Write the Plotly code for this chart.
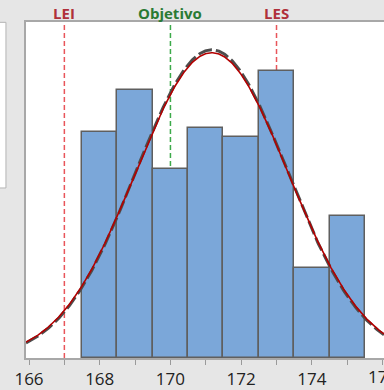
import numpy as np
import plotly.graph_objects as go

# Histogram bins (centres, width 1) and bar heights
bin_centers = [168, 169, 170, 171, 172, 173, 174, 175]
bin_heights = [12.6, 14.9, 10.5, 12.8, 12.3, 16.0, 5.0, 7.9]

# Fitted normal curves (mean, std dev)
fit_mean = 171.17
sigma_overall = 2.16
sigma_within = 2.14

# Spec limits
lei = 167.0
target = 170.0
les = 173.0

tick_vals = list(range(166, 177))
edge_tick = 176  # sits right on the cut-off edge, drawn as an annotation
tick_text = [str(v) if v % 2 == 0 and v != edge_tick else "" for v in tick_vals]

X_RANGE = [165.915, 176.04]
Y_RANGE = [0, 18.7]

n_total = sum(bin_heights)
bin_width = 1.0

TICK_FONT = dict(family="Open Sans", size=17, color="#222222")


def normal_curve(xs, mu, sd):
    return n_total * bin_width / (sd * np.sqrt(2 * np.pi)) * np.exp(-0.5 * ((xs - mu) / sd) ** 2)


xs = np.linspace(X_RANGE[0], X_RANGE[1], 400)

fig = go.Figure()

fig.add_trace(go.Bar(
    x=bin_centers,
    y=bin_heights,
    width=bin_width,
    marker=dict(color="#7ba7d9", line=dict(color="#5f5f5f", width=1.5)),
    showlegend=False,
))

fig.add_trace(go.Scatter(
    x=xs, y=normal_curve(xs, fit_mean, sigma_within),
    mode="lines",
    line=dict(color="#4d4d4d", width=3, dash="14px,4px"),
    showlegend=False,
))
fig.add_trace(go.Scatter(
    x=xs, y=normal_curve(xs, fit_mean, sigma_overall),
    mode="lines",
    line=dict(color="#b30000", width=1.6),
    showlegend=False,
))

# spec lines, drawn behind the bars
for val, color in ((lei, "#e8555a"), (target, "#3daa4a"), (les, "#e8555a")):
    fig.add_shape(type="line", xref="x", yref="paper", x0=val, x1=val, y0=0, y1=1,
                  line=dict(color=color, width=1.5, dash="5px,3px"), layer="below")

for val, label, color in ((lei, "LEI", "#b0303a"), (target, "Objetivo", "#2a7a34"),
                          (les, "LES", "#b0303a")):
    fig.add_annotation(x=val, xref="x", y=1.028, yref="paper", text=f"<b>{label}</b>",
                       showarrow=False, yanchor="middle",
                       font=dict(family="Open Sans", size=15, color=color))

fig.add_annotation(x=edge_tick, xref="x", y=-0.054, yref="paper", text=str(edge_tick),
                   showarrow=False, yanchor="middle", font=TICK_FONT)

# left-hand legend panel (cut off in the picture)
fig.add_shape(type="rect", xref="paper", yref="paper", x0=-0.2, x1=-0.056, y0=0.506, y1=0.999,
              fillcolor="white", line=dict(color="#b4b4b4", width=1))

fig.update_xaxes(
    range=X_RANGE,
    tickvals=tick_vals,
    ticktext=tick_text,
    ticks="outside",
    ticklen=5,
    tickcolor="#9a9a9a",
    tickfont=TICK_FONT,
    showline=True,
    linecolor="#a8a8a8",
    linewidth=1.5,
    mirror=True,
    showgrid=False,
    zeroline=False,
    automargin=False,
)
fig.update_yaxes(
    range=Y_RANGE,
    showticklabels=False,
    ticks="",
    showline=True,
    linecolor="#a8a8a8",
    linewidth=1.5,
    showgrid=False,
    zeroline=False,
    automargin=False,
)
fig.update_layout(
    width=384,
    height=390,
    margin=dict(l=26, r=0, t=22, b=32),
    plot_bgcolor="white",
    paper_bgcolor="#e6e6e6",
    bargap=0,
    showlegend=False,
)

fig.write_html("out.html", config={"displayModeBar": False},
               post_script="document.body.style.margin='0';")
